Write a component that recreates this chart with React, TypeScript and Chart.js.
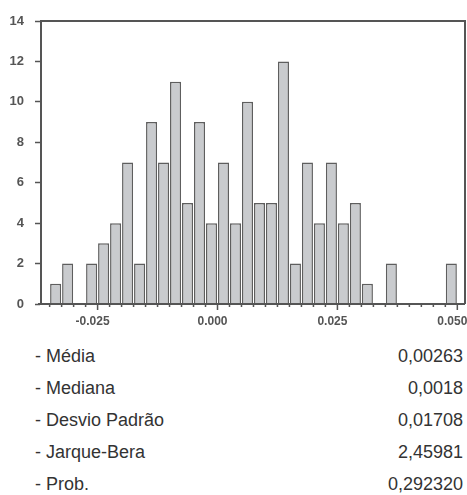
import React, { useEffect, useRef } from "react";
import { Chart, registerables } from "chart.js";

Chart.register(...registerables);

// Histogram bins (bin centres, width 0.0025) and their counts
const binWidth = 0.0025;
const binCenters = [
  -0.03375, -0.03125, -0.02875, -0.02625, -0.02375, -0.02125, -0.01875, -0.01625,
  -0.01375, -0.01125, -0.00875, -0.00625, -0.00375, -0.00125, 0.00125, 0.00375,
  0.00625, 0.00875, 0.01125, 0.01375, 0.01625, 0.01875, 0.02125, 0.02375,
  0.02625, 0.02875, 0.03125, 0.03375, 0.03625, 0.03875, 0.04125, 0.04375,
  0.04625, 0.04875,
];
const counts = [
  1, 2, 0, 2, 3, 4, 7, 2, 9, 7, 11, 5, 9, 4, 7, 4, 10, 5, 5, 12, 2, 7, 4, 7, 4, 5, 1, 0, 2,
  0, 0, 0, 0, 2,
];
const xTickValues = [-0.025, 0, 0.025, 0.05];
const yMax = 14;
const yStep = 2;
const xMin = -0.0368;
const xMax = 0.0516;

const statLabels = ["- Média", "- Mediana", "- Desvio Padrão", "- Jarque-Bera", "- Prob."];
const statValues = ["0,00263", "0,0018", "0,01708", "2,45981", "0,292320"];

const AXIS = "#555555";

const framePlugin = {
  id: "frameAndTicks",
  afterDraw(chart: any) {
    const { ctx, chartArea: a, scales } = chart;
    const xs = scales.x;
    ctx.save();
    ctx.strokeStyle = AXIS;
    ctx.lineWidth = 2;
    ctx.beginPath();
    ctx.moveTo(a.left - 1, a.top);
    ctx.lineTo(a.right, a.top);
    ctx.lineTo(a.right, a.bottom);
    ctx.stroke();
    ctx.beginPath();
    ctx.moveTo(a.left - 3, a.bottom);
    ctx.lineTo(a.right, a.bottom);
    ctx.stroke();
    ctx.lineWidth = 1.5;
    ctx.beginPath();
    const edges = binCenters
      .map((c) => c - binWidth / 2)
      .concat([binCenters[binCenters.length - 1] + binWidth / 2]);
    edges.forEach((v) => {
      const major = xTickValues.some((t) => Math.abs(t - v) < 1e-9);
      const px = xs.getPixelForValue(v);
      ctx.moveTo(px, a.bottom);
      ctx.lineTo(px, a.bottom + (major ? 6 : 3));
    });
    ctx.stroke();
    ctx.restore();
  },
};

export default function App() {
  const ref = useRef<HTMLCanvasElement | null>(null);

  useEffect(() => {
    if (!ref.current) return;
    const chart = new Chart(ref.current, {
      type: "bar",
      data: {
        datasets: [
          {
            data: binCenters.map((x, i) => ({ x, y: counts[i] })),
            backgroundColor: "#c9cbce",
            borderColor: "#5e5e5e",
            borderWidth: 1.5,
            borderSkipped: "bottom",
            barPercentage: 0.92,
            categoryPercentage: 1,
          },
        ],
      },
      options: {
        animation: false,
        responsive: true,
        maintainAspectRatio: false,
        layout: { padding: { top: 21, right: 2, left: 0, bottom: 0 } },
        plugins: { legend: { display: false }, tooltip: { enabled: false } },
        scales: {
          x: {
            type: "linear",
            min: xMin,
            max: xMax,
            offset: false,
            afterBuildTicks: (s: any) => {
              s.ticks = xTickValues.map((v) => ({ value: v }));
            },
            afterFit: (s: any) => {
              s.height = 31;
              s.paddingLeft = 0;
              s.paddingRight = 0;
            },
            grid: { display: true, offset: false, drawOnChartArea: false, drawTicks: false },
            border: { display: false },
            ticks: {
              autoSkip: false,
              maxRotation: 0,
              padding: 10,
              labelOffset: -5,
              color: "#555",
              font: { family: "Liberation Sans", size: 12, weight: "bold" },
              callback: (v: any) => Number(v).toFixed(3),
            },
          },
          y: {
            min: 0,
            max: yMax,
            afterFit: (s: any) => {
              s.width = 41;
            },
            grid: { drawOnChartArea: false, drawTicks: true, tickLength: 6, tickColor: AXIS, tickWidth: 1.5 },
            border: { display: true, color: AXIS, width: 2 },
            ticks: {
              stepSize: yStep,
              padding: 11,
              color: "#555",
              font: { family: "Liberation Sans", size: 13, weight: "bold" },
            },
          },
        },
      },
      plugins: [framePlugin],
    });
    return () => chart.destroy();
  }, []);

  return (
    <div style={{ position: "absolute", left: 0, top: 0, width: 467, height: 495, background: "#fff" }}>
      <div style={{ position: "absolute", left: 0, top: 0, width: 467, height: 335 }}>
        <canvas ref={ref} />
      </div>
      {statLabels.map((lab, i) => (
        <div
          key={lab}
          style={{
            position: "absolute",
            left: 35,
            width: 428,
            top: 344 + i * 32,
            height: 24,
            lineHeight: "24px",
            display: "flex",
            justifyContent: "space-between",
            fontFamily: "Liberation Sans, Arial, sans-serif",
            fontSize: 18,
            color: "#333",
          }}
        >
          <span>{lab}</span>
          <span>{statValues[i]}</span>
        </div>
      ))}
    </div>
  );
}
